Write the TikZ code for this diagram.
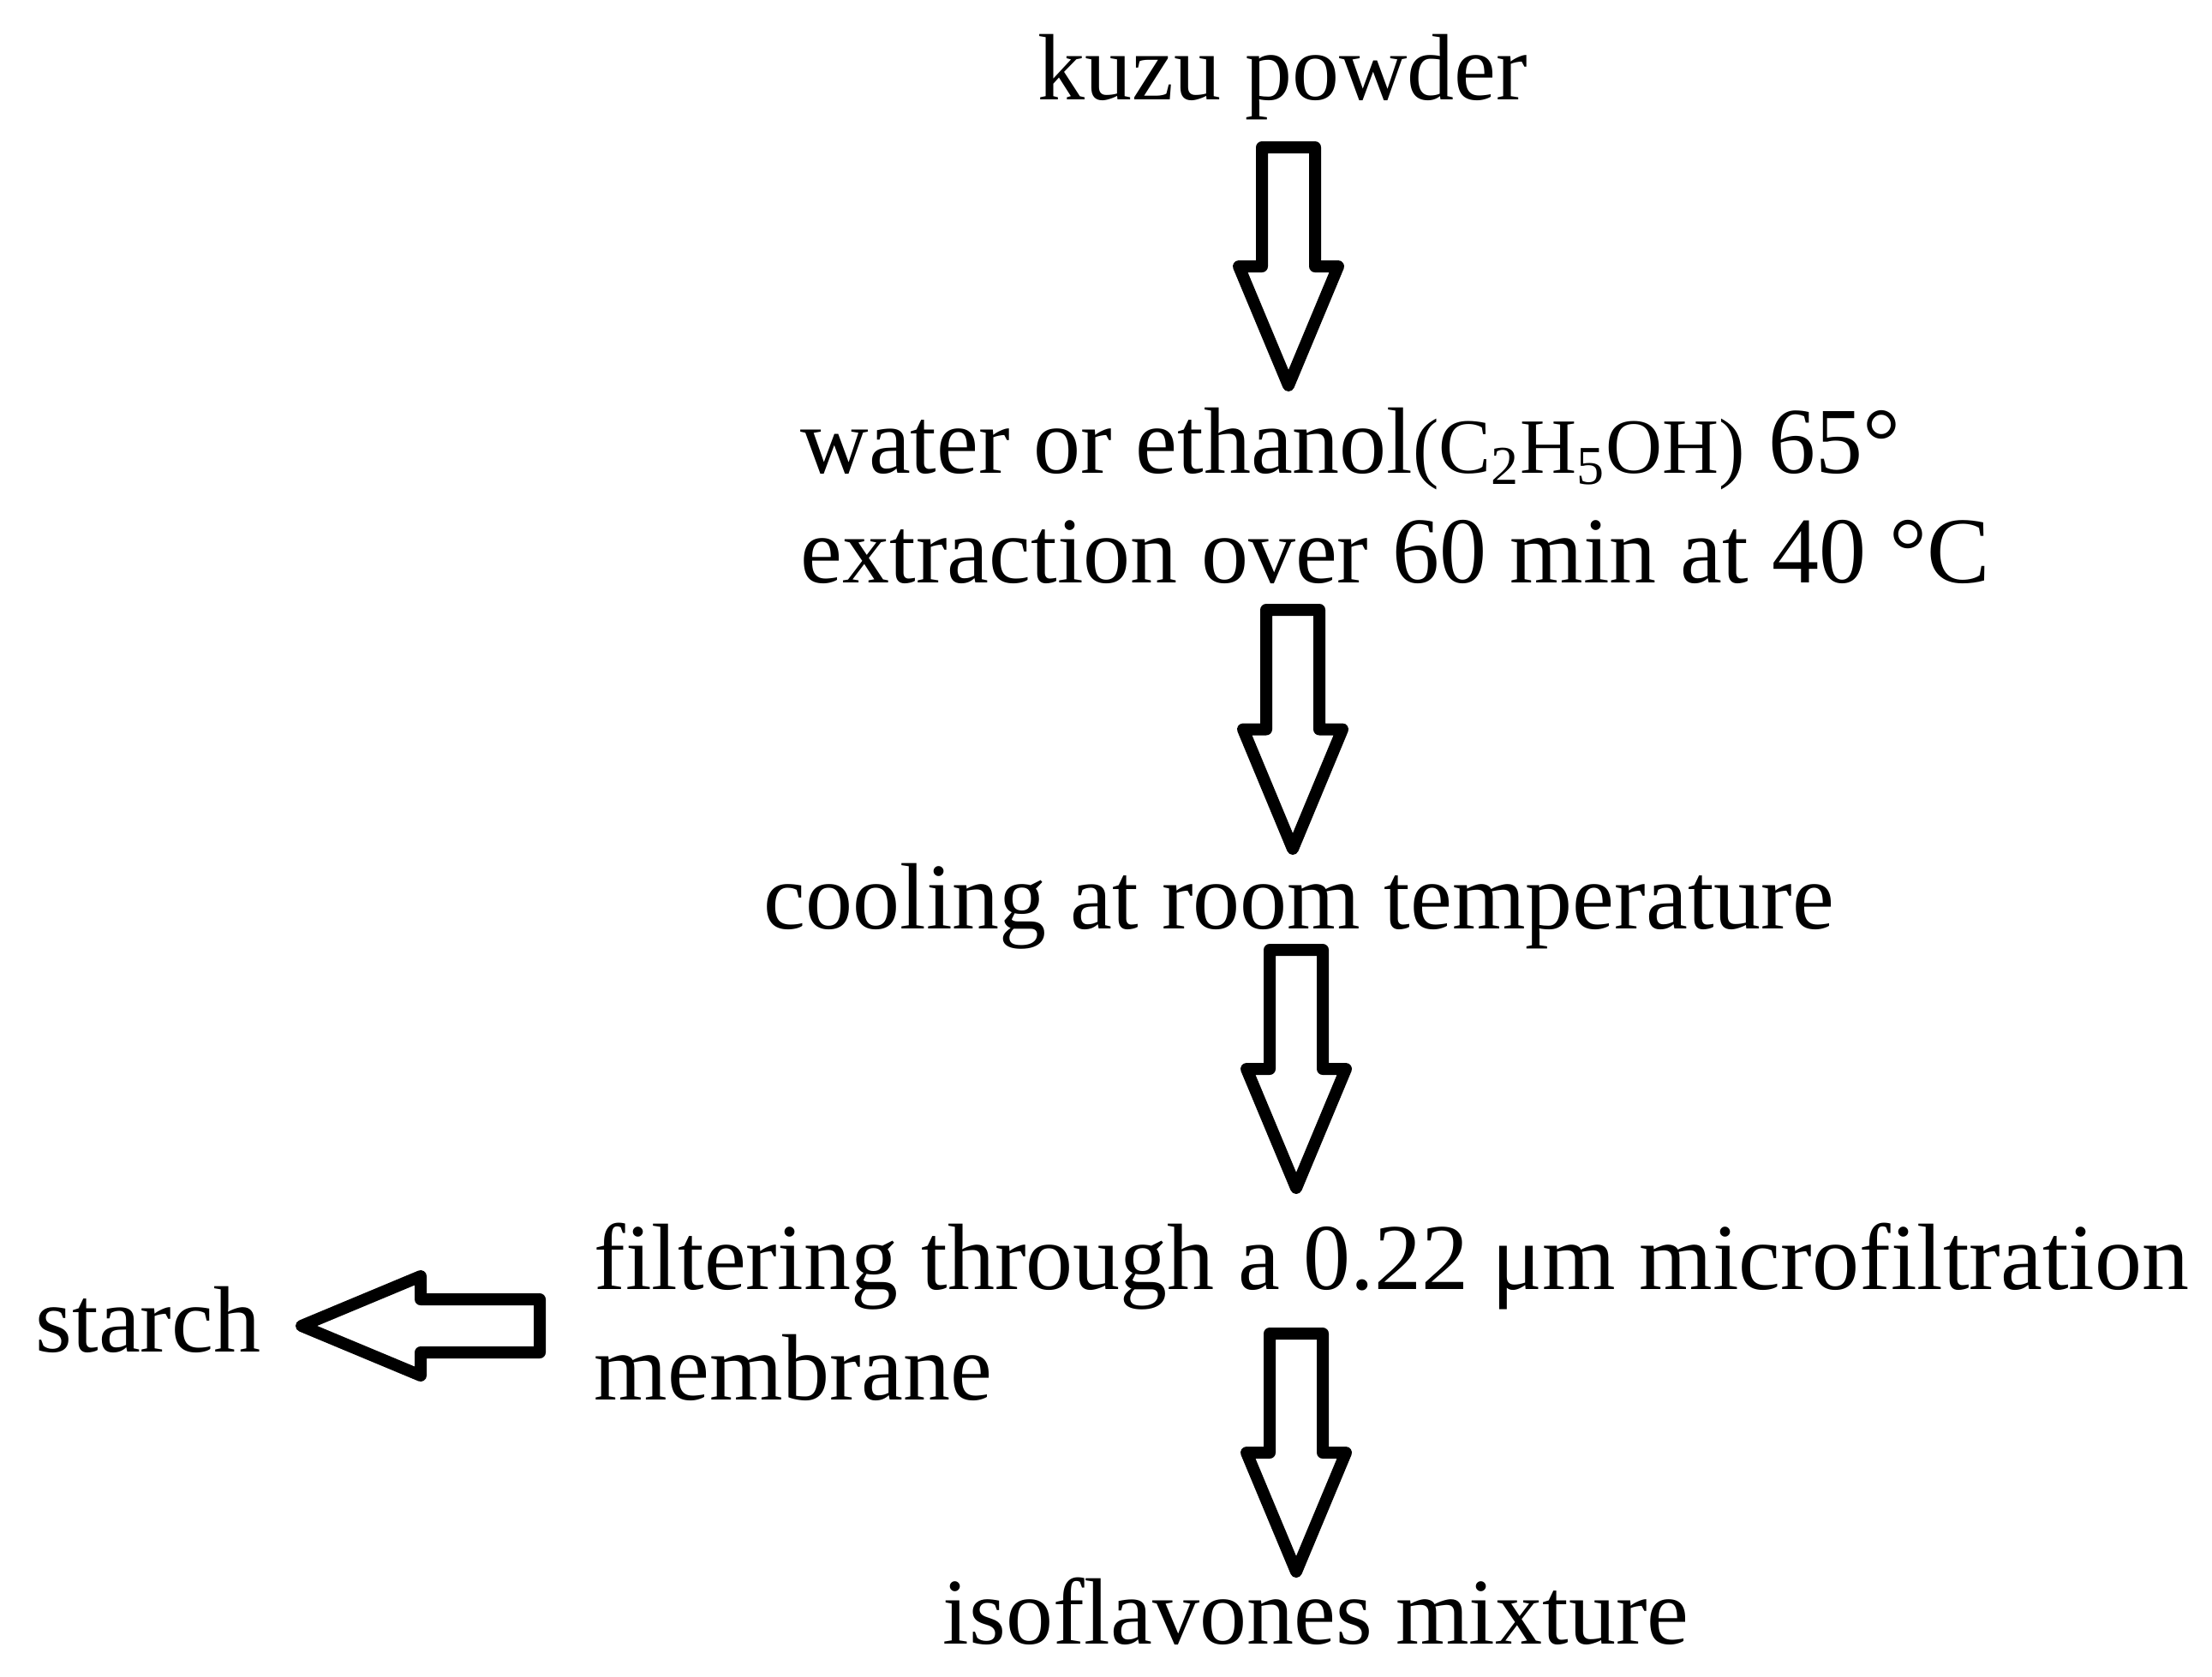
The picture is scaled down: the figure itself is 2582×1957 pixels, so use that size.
\documentclass[tikz,border=0pt]{standalone}
\usepackage{fontspec}
\setmainfont{Liberation Serif}
\usetikzlibrary{calc}

\newcommand{\fatarrow}[2]{%
\coordinate (mid) at ($(#1)!0.5!(#2)$);
\draw[fat] ($(#1)!3.1mm!90:(#2)$) -- ($(mid)!3.1mm!90:(#2)$) -- ($(mid)!5.8mm!90:(#2)$) -- (#2)
 -- ($(mid)!5.8mm!-90:(#2)$) -- ($(mid)!3.1mm!-90:(#2)$) -- ($(#1)!3.1mm!-90:(#2)$) -- cycle;}

\begin{document}
\begin{tikzpicture}[x=0.1mm,y=-0.1mm]

\tikzstyle{txt} = [anchor=base west, inner sep=0pt, font=\fontsize{31.3}{37}\selectfont]
\tikzstyle{fat} = [draw=black, fill=white, line width=1.4mm, line join=round]
\useasboundingbox (0,0) rectangle (2582,1957);
\node (kuzu) [txt] at (1211,116) {kuzu powder};
\node (water) [txt] at (934,552) {water or ethanol{\fontsize{26}{30}\selectfont(C\textsubscript{2}H\textsubscript{5}OH)} 65°};
\node (extract) [txt] at (934,680) {extraction over 60 min at 40 °C};
\node (cool) [txt] at (891,1084) {cooling at room temperature};
\node (filter) [txt] at (693,1505) {filtering through a 0.22 μm microfiltration};
\node (membr) [txt] at (693,1634) {membrane};
\node (starch) [txt] at (41,1578) {starch};
\node (iso) [txt] at (1100,1919) {isoflavones mixture};
% arrow ends
\coordinate (a1) at (1504,172); \coordinate (b1) at (1504,450);
\coordinate (a2) at (1509,712); \coordinate (b2) at (1509,991);
\coordinate (a3) at (1513,1109); \coordinate (b3) at (1513,1387);
\coordinate (a4) at (1513,1557); \coordinate (b4) at (1513,1835);
\coordinate (a5) at (630,1548); \coordinate (b5) at (352,1548);
\fatarrow{a1}{b1}
\fatarrow{a2}{b2}
\fatarrow{a3}{b3}
\fatarrow{a4}{b4}
\fatarrow{a5}{b5}
\end{tikzpicture}
\end{document}
